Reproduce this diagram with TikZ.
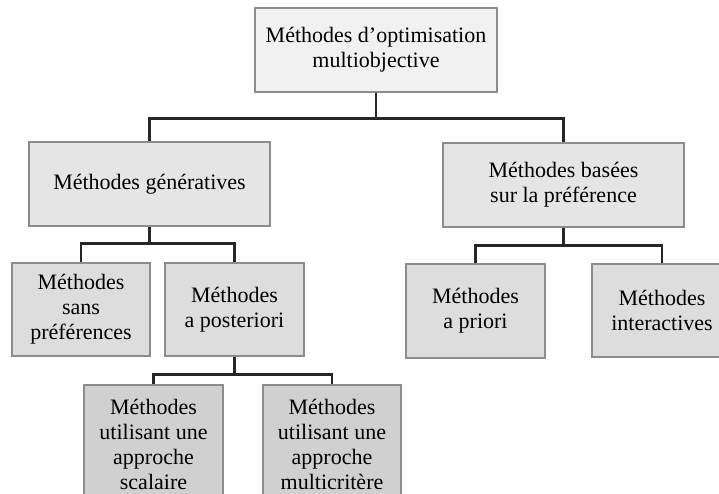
\documentclass[tikz,border=0pt]{standalone}
\usepackage{fontspec}
\setmainfont{Liberation Serif}
\usepackage{xcolor}

\definecolor{boxline}{gray}{0.55}
\definecolor{linkline}{gray}{0.15}
\definecolor{fillA}{gray}{0.945}
\definecolor{fillB}{gray}{0.9}
\definecolor{fillC}{gray}{0.865}
\definecolor{fillD}{gray}{0.815}

\tikzset{
	methbox/.style={draw=boxline, line width=1.1pt, align=center, inner sep=0pt,
		font=\fontsize{22}{25}\selectfont},
	link/.style={draw=linkline, line width=2.2pt}
}

\begin{document}
\begin{tikzpicture}[x=1pt,y=-1pt]
	\useasboundingbox (0,0) rectangle (719,493);
	
	% root
	\node[methbox, fill=fillA, minimum width=242, minimum height=84] (root) at (376,50) {Méthodes d’optimisation\\multiobjective};
	
	% second level
	\node[methbox, fill=fillB, minimum width=241, minimum height=84] (gen) at (149.5,184) {Méthodes génératives};
	\node[methbox, fill=fillB, minimum width=241, minimum height=84] (pref) at (563.5,185) {Méthodes basées\\sur la préférence};
	
	% third level
	\node[methbox, fill=fillC, minimum width=138, minimum height=93] (sans) at (81,309.5) {Méthodes\\sans\\préférences};
	\node[methbox, fill=fillC, minimum width=139, minimum height=93] (post) at (234.5,309.5) {Méthodes\\a posteriori};
	\node[methbox, fill=fillC, minimum width=139, minimum height=94] (priori) at (475.5,311) {Méthodes\\a priori};
	\node[methbox, fill=fillC, minimum width=140, minimum height=93] (inter) at (662,310.5) {Méthodes\\interactives};
	
	% fourth level
	\node[methbox, fill=fillD, minimum width=139, minimum height=118] (scal) at (153.5,444) {Méthodes\\utilisant une\\approche\\scalaire};
	\node[methbox, fill=fillD, minimum width=138, minimum height=118] (multi) at (332,444) {Méthodes\\utilisant une\\approche\\multicritère};
	
	% links
	\draw[link] (root.south) -- ++(0,26) -| (gen.north);
	\draw[link] (root.south) -- ++(0,26) -| (pref.north);
	\draw[link] (gen.south) -- ++(0,17) -| (sans.north);
	\draw[link] (gen.south) -- ++(0,17) -| (post.north);
	\draw[link] (pref.south) -- ++(0,18) -| (priori.north);
	\draw[link] (pref.south) -- ++(0,18) -| (inter.north);
	\draw[link] (post.south) -- ++(0,18) -| (scal.north);
	\draw[link] (post.south) -- ++(0,18) -| (multi.north);
	
\end{tikzpicture}
\end{document}
